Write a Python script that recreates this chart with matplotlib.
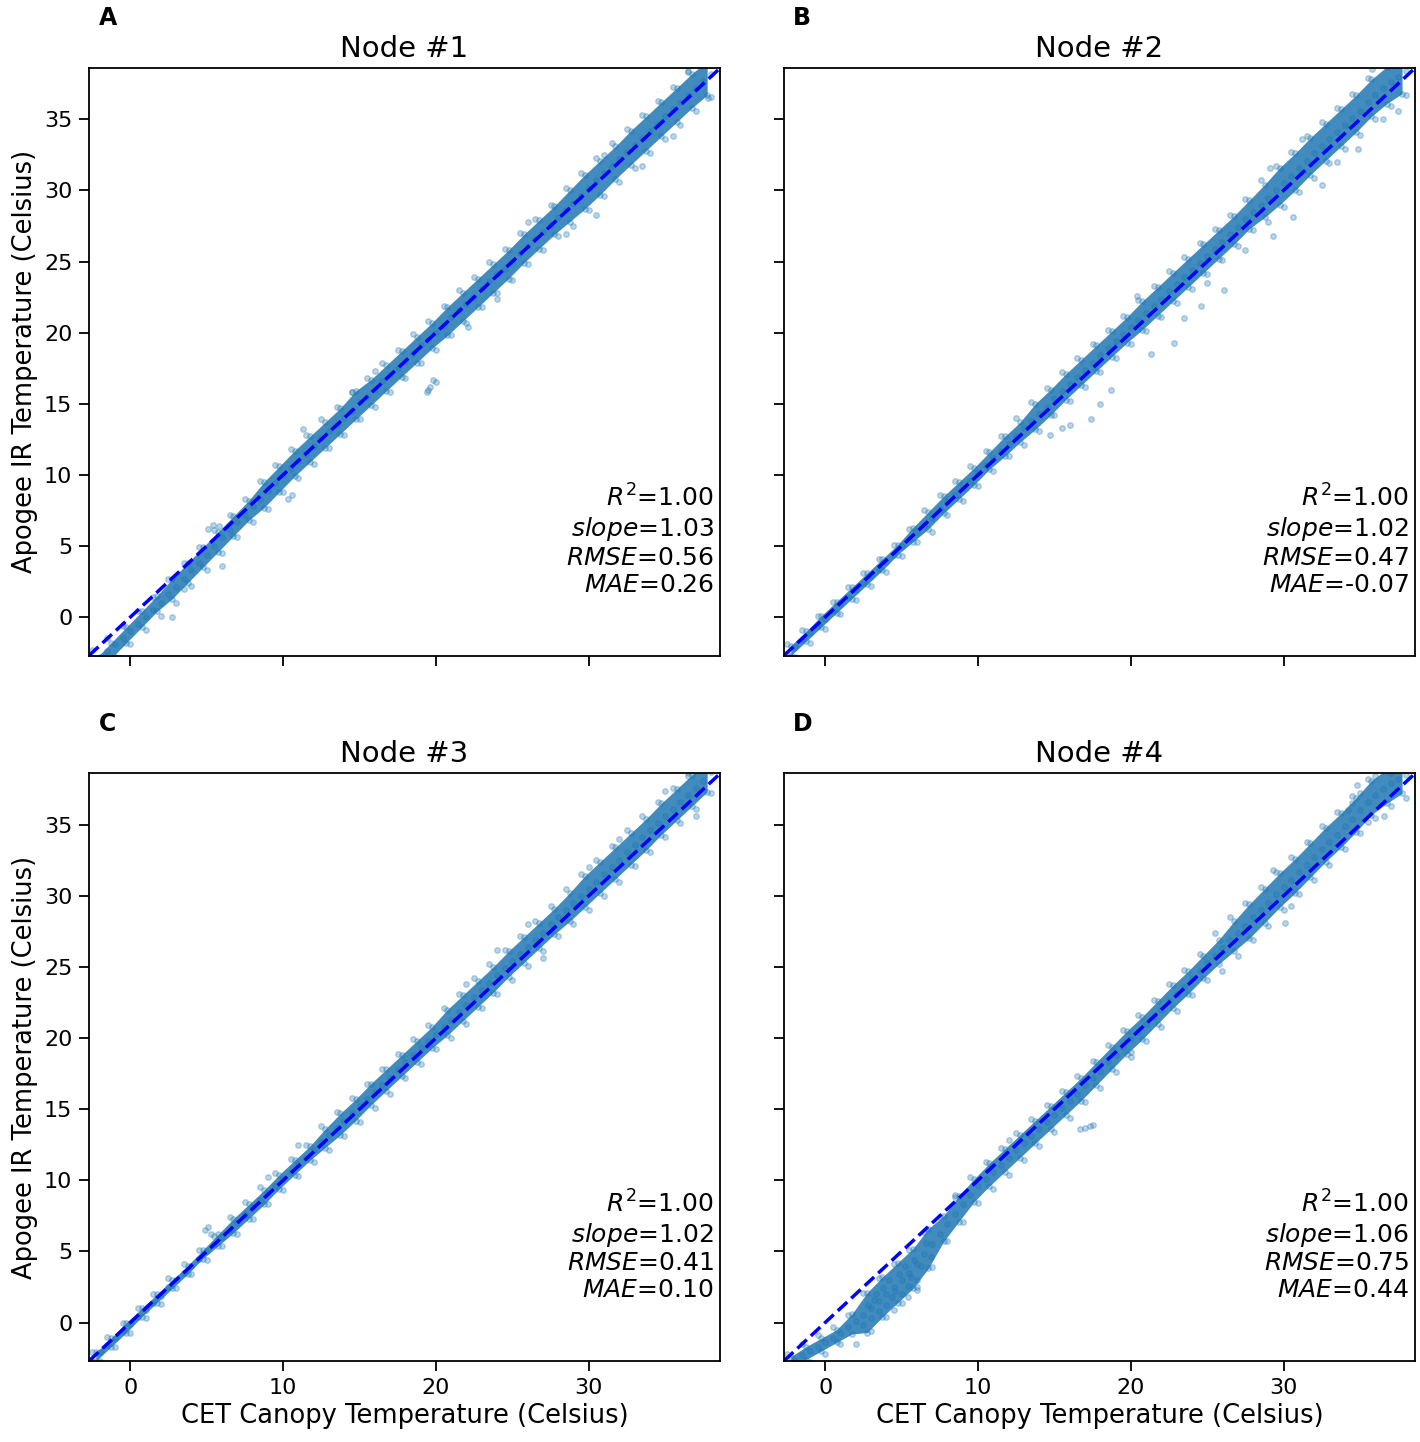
import numpy as np
import matplotlib
matplotlib.use("Agg")
import matplotlib.pyplot as plt

# ------------------------------
# Valores (CET x Apogee IR, em Celsius)
# X_GRID: centro da nuvem e pontos da franja; X_EDGE: bordas do núcleo denso
X_GRID = [-2.5, -2.0, -1.5, -1.0, -0.5, 0.0, 0.5, 1.0, 1.5, 2.0, 2.5, 3.0, 3.5, 4.0,
          4.5, 5.0, 5.5, 6.0, 6.5, 7.0, 7.5, 8.0, 8.5, 9.0, 9.5, 10.0, 10.5, 11.0,
          11.5, 12.0, 12.5, 13.0, 13.5, 14.0, 14.5, 15.0, 15.5, 16.0, 16.5, 17.0,
          17.5, 18.0, 18.5, 19.0, 19.5, 20.0, 20.5, 21.0, 21.5, 22.0, 22.5, 23.0,
          23.5, 24.0, 24.5, 25.0, 25.5, 26.0, 26.5, 27.0, 27.5, 28.0, 28.5, 29.0,
          29.5, 30.0, 30.5, 31.0, 31.5, 32.0, 32.5, 33.0, 33.5, 34.0, 34.5, 35.0,
          35.5, 36.0, 36.5, 37.0, 37.5, 38.0]
X_EDGE = [-2.25, -1.25, -0.25, 0.75, 1.75, 2.75, 3.75, 4.75, 5.75, 6.75, 7.75,
          8.75, 9.75, 10.75, 11.75, 12.75, 13.75, 14.75, 15.75, 16.75, 17.75,
          18.75, 19.75, 20.75, 21.75, 22.75, 23.75, 24.75, 25.75, 26.75, 27.75,
          28.75, 29.75, 30.75, 31.75, 32.75, 33.75, 34.75, 35.75, 36.75, 37.75]

# Node #1
node1_mid = [-3.2, -2.8, -2.4, -1.9, -1.5, -1.0, -0.5, 0.0, 0.5, 1.0, 1.6, 2.1, 2.7, 3.3,
             3.8, 4.4, 5.0, 5.6, 6.1, 6.7, 7.2, 7.8, 8.3, 8.9, 9.4, 10.0, 10.5, 11.0,
             11.5, 12.0, 12.6, 13.1, 13.5, 14.0, 14.5, 15.1, 15.5, 16.0, 16.6, 17.0,
             17.5, 18.0, 18.6, 19.1, 19.5, 20.0, 20.5, 21.1, 21.6, 22.0, 22.5, 23.1,
             23.6, 24.1, 24.5, 25.0, 25.6, 26.1, 26.6, 27.1, 27.6, 28.1, 28.6, 29.1,
             29.6, 30.2, 30.7, 31.2, 31.7, 32.2, 32.7, 33.2, 33.7, 34.2, 34.7, 35.2,
             35.7, 36.2, 36.7, 37.2, 37.7, 38.2]
node1_fringe = [-2.3, -3.7, -1.5, -2.8, -0.6, -1.9, 0.4, -0.9, 1.4, 0.1, 2.7, 1.0, 3.8, 2.2,
                4.9, 3.3, 6.1, 4.5, 7.2, 5.6, 8.3, 6.7, 9.6, 7.6, 10.7, 8.8, 11.8, 9.8,
                12.8, 10.8, 13.9, 11.9, 14.8, 12.8, 15.8, 13.9, 16.8, 14.8, 17.9, 15.8,
                18.8, 16.8, 19.9, 17.9, 20.8, 18.8, 21.9, 19.8, 23.0, 20.7, 23.9, 21.8,
                25.0, 22.8, 25.9, 23.7, 27.0, 24.8, 28.0, 25.8, 29.0, 26.8, 30.2, 27.5,
                31.2, 28.6, 32.3, 29.6, 33.3, 30.6, 34.3, 31.6, 35.3, 32.6, 36.3, 33.6,
                37.3, 34.6, 38.3, 35.6, 39.3, 36.6]
node1_lo = [-4.0, -2.9, -1.8, -0.7, 0.4, 1.3, 2.4, 3.5, 4.6, 5.7, 6.8, 7.7, 8.8, 9.9,
            10.9, 11.9, 12.9, 13.9, 14.9, 15.9, 16.9, 17.9, 18.9, 19.8, 20.8, 21.8,
            22.8, 23.8, 24.9, 25.9, 26.9, 27.8, 28.7, 29.7, 30.8, 31.8, 32.8, 33.8,
            34.8, 35.8, 36.7]
node1_hi = [-2.9, -1.8, -0.7, 0.4, 1.5, 2.7, 3.8, 4.9, 6.0, 7.1, 8.2, 9.5, 10.6, 11.7,
            12.7, 13.7, 14.7, 15.9, 16.7, 17.7, 18.7, 19.7, 20.7, 21.8, 22.8, 23.8,
            24.8, 25.8, 26.9, 27.9, 28.9, 30.0, 31.1, 32.1, 33.1, 34.2, 35.2, 36.2,
            37.2, 38.2, 39.1]
node1_out_x = [19.4, 19.6, 19.8, 19.5, 20.0, 22.1, 5.4, 5.1, 5.8, 2.75, 6.0, 11.3, 10.3,
               10.6, 24.0, 28.5, 30.5, 33.5, 35.5, 37.8, 14.5, 16.0, 3.5, 36.5, 31.0, 26.0]
node1_out_y = [15.8, 16.2, 16.7, 16.0, 16.5, 20.4, 6.5, 6.2, 6.4, 0.0, 3.6, 13.2, 8.3,
               8.6, 22.4, 26.9, 28.3, 31.7, 33.8, 36.5, 15.8, 17.3, 2.0, 38.4, 32.5, 27.8]

# Node #2
node2_mid = [-2.6, -2.1, -1.6, -1.1, -0.6, -0.1, 0.4, 0.9, 1.4, 1.9, 2.4, 2.9, 3.4, 3.9,
             4.4, 5.0, 5.5, 6.0, 6.5, 7.0, 7.6, 8.1, 8.6, 9.1, 9.6, 10.1, 10.7, 11.2,
             11.7, 12.2, 12.7, 13.3, 13.8, 14.3, 14.8, 15.4, 15.9, 16.4, 16.9, 17.4,
             17.9, 18.4, 18.9, 19.4, 19.9, 20.4, 20.9, 21.4, 21.9, 22.4, 22.9, 23.4,
             23.9, 24.4, 24.9, 25.4, 25.9, 26.4, 26.9, 27.4, 28.0, 28.5, 29.0, 29.5,
             30.0, 30.5, 31.0, 31.6, 32.1, 32.6, 33.1, 33.6, 34.1, 34.6, 35.1, 35.6,
             36.2, 36.7, 37.2, 37.6, 38.0, 38.4]
node2_fringe = [-1.9, -2.8, -0.9, -1.8, 0.1, -0.8, 1.1, 0.2, 2.1, 1.2, 3.1, 2.2, 4.1, 3.2,
                5.1, 4.3, 6.2, 5.3, 7.5, 6.0, 8.6, 7.2, 9.6, 8.2, 10.6, 9.2, 11.7, 10.3,
                12.7, 11.3, 14.0, 12.1, 15.1, 13.1, 16.1, 14.2, 17.2, 15.2, 18.2, 16.2,
                19.2, 17.2, 20.2, 18.2, 21.2, 19.2, 22.3, 20.1, 23.3, 21.1, 24.3, 22.1,
                25.3, 23.1, 26.3, 24.1, 27.3, 25.1, 28.3, 26.1, 29.4, 27.2, 30.7, 27.8,
                31.7, 28.8, 32.7, 29.9, 33.8, 30.9, 34.8, 31.9, 35.8, 32.9, 36.8, 33.9,
                37.9, 35.0, 38.9, 35.9, 39.7, 36.7]
node2_lo = [-2.7, -1.7, -0.7, 0.3, 1.3, 2.3, 3.3, 4.4, 5.3, 6.2, 7.3, 8.3, 9.3, 10.4,
            11.3, 12.3, 13.2, 14.2, 15.3, 16.3, 17.3, 18.3, 19.3, 20.2, 21.2, 22.2,
            23.2, 24.2, 25.2, 26.2, 27.3, 28.1, 29.0, 30.0, 31.1, 32.1, 33.1, 34.1,
            35.2, 36.1, 36.8]
node2_hi = [-2.0, -1.0, 0.1, 1.1, 2.1, 3.1, 4.1, 5.1, 6.3, 7.4, 8.5, 9.5, 10.5, 11.6,
            12.7, 13.7, 15.0, 16.0, 17.1, 18.1, 19.1, 20.1, 21.1, 22.2, 23.2, 24.2,
            25.2, 26.2, 27.2, 28.2, 29.3, 30.4, 31.6, 32.6, 33.7, 34.7, 35.7, 36.7,
            37.8, 38.7, 39.4]
node2_out_x = [37.5, 34.9, 32.5, 30.6, 29.3, 26.1, 24.6, 22.8, 21.3, 29.1, 31.2, 20.4,
               17.4, 18.0, 18.7, 14.7, 15.5, 16.0, 33.5, 36.5, 27.5, 25.0, 23.5, 35.8]
node2_out_y = [35.6, 32.9, 30.4, 28.1, 26.8, 23.0, 21.9, 19.3, 18.5, 31.6, 33.6, 22.6,
               13.9, 15.0, 16.0, 12.8, 13.3, 13.5, 32.0, 35.0, 25.8, 23.5, 21.0, 38.5]

# Node #3
node3_mid = [-2.7, -2.1, -1.6, -1.1, -0.6, -0.1, 0.4, 0.9, 1.4, 1.9, 2.5, 3.0, 3.5, 4.0,
             4.5, 5.0, 5.5, 6.0, 6.5, 7.0, 7.6, 8.1, 8.6, 9.1, 9.6, 10.1, 10.6, 11.1,
             11.6, 12.1, 12.7, 13.2, 13.7, 14.2, 14.7, 15.2, 15.7, 16.2, 16.7, 17.2,
             17.8, 18.3, 18.8, 19.3, 19.8, 20.3, 20.8, 21.3, 21.8, 22.3, 22.9, 23.4,
             23.9, 24.4, 24.9, 25.4, 25.9, 26.4, 26.9, 27.4, 28.0, 28.5, 29.0, 29.5,
             30.0, 30.5, 31.0, 31.5, 32.0, 32.5, 33.1, 33.6, 34.1, 34.6, 35.1, 35.6,
             36.1, 36.6, 37.1, 37.6, 38.1, 38.7]
node3_fringe = [-2.1, -2.7, -1.0, -1.7, 0.0, -0.7, 1.0, 0.3, 2.0, 1.3, 3.1, 2.4, 4.1, 3.4,
                5.1, 4.4, 6.1, 5.4, 7.4, 6.2, 8.5, 7.3, 9.5, 8.3, 10.5, 9.3, 11.5, 10.3,
                12.5, 11.3, 13.8, 12.1, 14.8, 13.1, 15.8, 14.1, 16.8, 15.1, 17.8, 16.1,
                18.9, 17.2, 19.9, 18.2, 20.9, 19.2, 22.1, 20.0, 23.1, 21.0, 24.2, 22.1,
                25.2, 23.1, 26.2, 24.1, 27.2, 25.1, 28.2, 26.1, 29.3, 27.2, 30.5, 28.0,
                31.5, 29.0, 32.5, 30.0, 33.5, 31.0, 34.6, 32.1, 35.6, 33.1, 36.6, 34.1,
                37.6, 35.1, 38.6, 36.1, 39.6, 37.2]
node3_lo = [-2.7, -1.7, -0.7, 0.4, 1.4, 2.4, 3.4, 4.5, 5.4, 6.3, 7.3, 8.3, 9.4, 10.4,
            11.4, 12.3, 13.2, 14.2, 15.3, 16.3, 17.3, 18.3, 19.3, 20.2, 21.2, 22.2,
            23.2, 24.3, 25.3, 26.3, 27.3, 28.2, 29.2, 30.2, 31.2, 32.2, 33.2, 34.3,
            35.3, 36.3, 37.3]
node3_hi = [-2.1, -1.1, 0.0, 1.0, 2.0, 3.0, 4.0, 5.1, 6.2, 7.3, 8.3, 9.3, 10.4, 11.4,
            12.4, 13.6, 14.7, 15.7, 16.8, 17.8, 18.8, 19.8, 20.8, 22.0, 23.0, 24.0,
            25.0, 26.1, 27.1, 28.1, 29.1, 30.2, 31.4, 32.4, 33.4, 34.4, 35.4, 36.5,
            37.5, 38.5, 39.5]
node3_out_x = [4.9, 5.3, 5.1, 11.0, 9.0, 30.0, 32.0, 35.0, 27.0, 24.0, 37.0, 22.0, 36.5, 26.0]
node3_out_y = [6.5, 6.2, 6.7, 12.5, 10.2, 32.0, 34.0, 37.4, 25.6, 26.2, 35.6, 23.8, 38.4, 28.0]

# Node #4
node4_mid = [-3.0, -2.6, -2.3, -2.0, -1.7, -1.4, -1.1, -0.7, -0.3, 0.1, 0.5, 1.0, 1.5, 2.0,
             2.5, 3.0, 3.5, 4.1, 4.8, 5.5, 6.2, 6.9, 7.6, 8.3, 9.0, 9.6, 10.1, 10.6,
             11.1, 11.6, 12.1, 12.6, 13.1, 13.6, 14.1, 14.6, 15.1, 15.6, 16.1, 16.7,
             17.2, 17.7, 18.3, 18.8, 19.4, 19.9, 20.4, 21.0, 21.5, 22.0, 22.6, 23.1,
             23.6, 24.2, 24.7, 25.3, 25.8, 26.3, 26.9, 27.4, 27.9, 28.5, 29.0, 29.5,
             30.1, 30.6, 31.1, 31.7, 32.2, 32.7, 33.3, 33.8, 34.3, 34.9, 35.4, 36.0,
             36.6, 37.1, 37.5, 37.9, 38.2, 38.5]
node4_fringe = [-2.2, -3.4, -1.5, -2.8, -0.9, -2.2, -0.3, -1.5, 0.5, -1.5, 2.1, -0.6, 3.1,
                0.4, 4.1, 1.4, 5.1, 2.5, 6.4, 3.9, 7.4, 5.7, 8.8, 7.1, 10.2, 8.4, 11.3,
                9.4, 12.3, 10.4, 13.3, 11.4, 14.3, 12.4, 15.3, 13.4, 16.3, 14.4, 17.3,
                15.5, 18.4, 16.5, 19.5, 17.6, 20.6, 18.7, 21.6, 19.8, 22.7, 20.8, 23.8,
                21.9, 24.8, 23.0, 25.9, 24.1, 27.4, 24.7, 28.5, 25.8, 29.5, 26.9, 30.6,
                27.9, 31.7, 29.0, 32.7, 30.1, 33.8, 31.1, 34.9, 32.2, 35.9, 33.3, 37.0,
                34.4, 38.2, 35.5, 39.1, 36.3, 39.8, 36.9]
node4_lo = [-3.3, -2.6, -2.0, -1.4, -0.8, -0.7, 0.4, 1.4, 2.4, 3.8, 5.7, 7.1, 8.5, 9.6,
            10.6, 11.6, 12.6, 13.6, 14.6, 15.6, 16.7, 17.8, 18.9, 19.9, 21.0, 22.1,
            23.1, 24.2, 25.2, 26.1, 27.0, 28.1, 29.2, 30.2, 31.3, 32.4, 33.4, 34.5,
            35.7, 36.5, 37.2]
node4_hi = [-2.4, -1.7, -1.1, -0.5, 0.6, 2.1, 3.2, 4.2, 5.2, 6.6, 7.5, 8.9, 10.1, 11.2,
            12.2, 13.2, 14.2, 15.2, 16.2, 17.2, 18.3, 19.4, 20.5, 21.5, 22.6, 23.7,
            24.7, 25.8, 26.9, 28.2, 29.4, 30.5, 31.6, 32.6, 33.7, 34.8, 35.8, 36.9,
            38.1, 38.9, 39.6]
node4_out_x = [2.5, 3.0, 3.2, 3.5, 3.8, 4.0, 4.2, 4.4, 4.6, 4.8, 5.0, 5.2, 5.4, 5.6, 5.8,
               6.0, 6.3, 6.6, 6.9, 3.3, 2.8, 4.5, 5.4, 6.0,
               16.7, 17.0, 17.3, 17.5, 35.5, 36.6, 20.0, 12.0, 8.5, 34.5, 36.0, 37.0,
               35.0, 30.5, 29.3, 30.1, 34.2, 34.8]
node4_out_y = [-0.2, 0.3, 1.6, 0.8, 2.4, 1.2, 3.0, 1.8, 2.2, 3.4, 2.0, 4.0, 2.6, 3.2, 4.4,
               3.0, 4.0, 5.6, 4.6, 2.0, 1.2, 0.9, 1.8, 2.3,
               13.6, 13.7, 13.8, 13.9, 35.2, 35.6, 19.0, 12.8, 9.0, 36.5, 38.4, 38.6,
               37.2, 29.3, 31.8, 28.1, 36.0, 37.8]

NODES = ["Node #1", "Node #2", "Node #3", "Node #4"]
LETTERS = ["A", "B", "C", "D"]
R2 = ["1.00", "1.00", "1.00", "1.00"]
SLOPE = ["1.03", "1.02", "1.02", "1.06"]
RMSE = ["0.56", "0.47", "0.41", "0.75"]
MAE = ["0.26", "-0.07", "0.10", "0.44"]

dados = [
    (node1_mid, node1_fringe, node1_lo, node1_hi, node1_out_x, node1_out_y),
    (node2_mid, node2_fringe, node2_lo, node2_hi, node2_out_x, node2_out_y),
    (node3_mid, node3_fringe, node3_lo, node3_hi, node3_out_x, node3_out_y),
    (node4_mid, node4_fringe, node4_lo, node4_hi, node4_out_x, node4_out_y),
]

# ------------------------------
# Figura
fig, axs = plt.subplots(2, 2, figsize=(14.2, 14.42), dpi=100, sharex=True, sharey=True)
fig.subplots_adjust(left=0.0627, right=0.9965, top=0.9528, bottom=0.0562,
                    wspace=0.101, hspace=0.2007)

azul = "#1f77b4"
for i, ax in enumerate(axs.flat):
    mid, fringe, lo, hi, ox, oy = dados[i]
    # núcleo denso da nuvem de pontos (entre as bordas lidas)
    ax.fill_between(X_EDGE, lo, hi, color=azul, alpha=0.85, linewidth=0)
    xs = X_GRID + X_GRID + X_EDGE + X_EDGE + ox
    ys = mid + fringe + lo + hi + oy
    ax.scatter(xs, ys, s=16, color=azul, alpha=0.3, linewidths=1.0)
    ax.axline((0, 0), slope=1, color="blue", linestyle="--", linewidth=2.5)

    ax.set_xlim(-2.7, 38.6)
    ax.set_ylim(-2.7, 38.6)
    ax.set_xticks([0, 10, 20, 30])
    ax.set_yticks([0, 5, 10, 15, 20, 25, 30, 35])
    ax.tick_params(labelsize=16, length=7, width=1.3, pad=5)
    for sp in ax.spines.values():
        sp.set_linewidth(1.3)

    ax.set_title(NODES[i], fontsize=21, pad=8)
    ax.text(0.015, 1.073, LETTERS[i], transform=ax.transAxes, fontsize=17,
            fontweight="bold", ha="left", va="baseline")

    txt = (r"$R^2$=" + R2[i] + "\n" + r"$slope$=" + SLOPE[i] + "\n"
           + r"$RMSE$=" + RMSE[i] + "\n" + r"$MAE$=" + MAE[i])
    ax.text(0.99, 0.1, txt, transform=ax.transAxes, fontsize=18,
            ha="right", va="bottom", linespacing=1.15)

for ax in axs[1, :]:
    ax.set_xlabel("CET Canopy Temperature (Celsius)", fontsize=18.5, labelpad=4)
for ax in axs[:, 0]:
    ax.set_ylabel("Apogee IR Temperature (Celsius)", fontsize=18.5, labelpad=4)

fig.savefig("out.png", dpi=100)
